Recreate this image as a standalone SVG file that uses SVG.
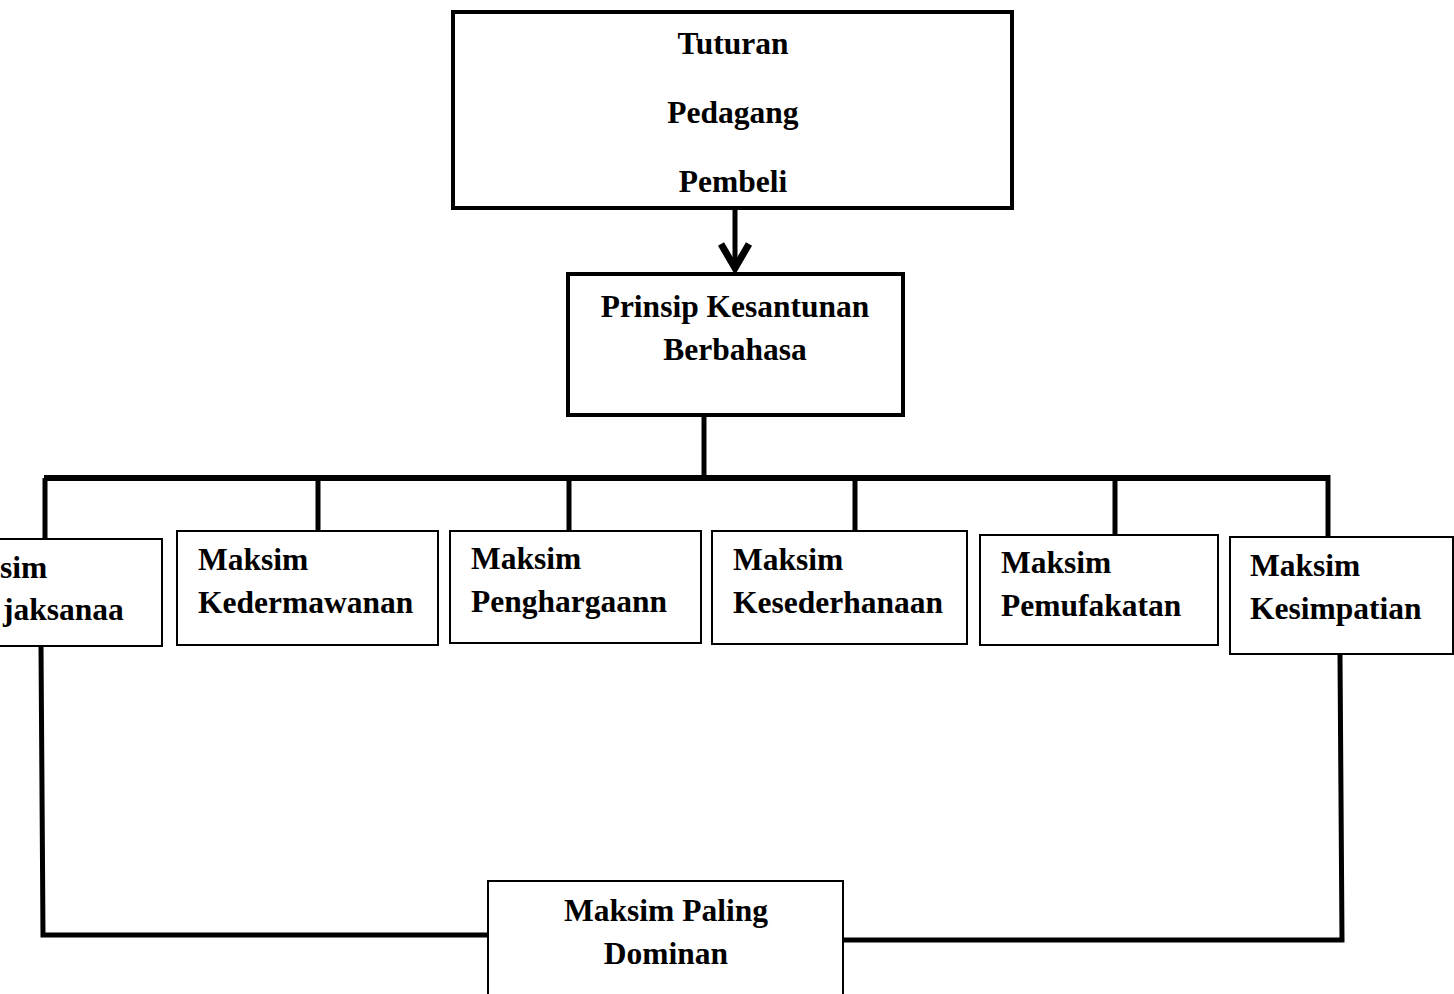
<svg xmlns="http://www.w3.org/2000/svg" width="1454" height="994" viewBox="0 0 1454 994">
<style>
text{font-family:"Liberation Serif","Times New Roman",serif;font-weight:bold;font-size:31.5px;fill:#000}
.c{text-anchor:middle}
.thick{fill:none;stroke:#000;stroke-width:4}
.thin{fill:#fff;stroke:#000;stroke-width:2}
.conn{fill:none;stroke:#000;stroke-width:5}
</style>
<rect width="1454" height="994" fill="#fff"/>
<g id="connectors">
<line class="conn" x1="735" y1="208" x2="735" y2="268"/>
<polyline class="conn" points="721,244 735,268 749,244" style="stroke-width:7"/>
<line class="conn" x1="704" y1="415" x2="704" y2="478"/>
<line class="conn" x1="44" y1="478" x2="1330" y2="478" style="stroke-width:6"/>
<line class="conn" x1="45" y1="478" x2="45" y2="540"/>
<line class="conn" x1="318" y1="478" x2="318" y2="531"/>
<line class="conn" x1="569" y1="478" x2="569" y2="531"/>
<line class="conn" x1="855" y1="478" x2="855" y2="531"/>
<line class="conn" x1="1115" y1="478" x2="1115" y2="535"/>
<line class="conn" x1="1328" y1="475" x2="1328" y2="537"/>
<polyline class="conn" points="41,646 43,935 490,935"/>
<polyline class="conn" points="1340,655 1342,940 843,940"/>
</g>
<g id="tuturan">
<rect class="thick" x="453" y="12" width="559" height="196"/>
<text class="c" x="733" y="54">Tuturan</text>
<text class="c" x="733" y="123">Pedagang</text>
<text class="c" x="733" y="192">Pembeli</text>
</g>
<g id="prinsip">
<rect class="thick" x="568" y="274" width="335" height="141"/>
<text class="c" x="735" y="317">Prinsip Kesantunan</text>
<text class="c" x="735" y="360">Berbahasa</text>
</g>
<g id="kebijaksanaan">
<rect class="thin" x="-10" y="539" width="172" height="107"/>
<text x="0" y="578">sim</text>
<text x="3" y="620">jaksanaa</text>
</g>
<g id="kedermawanan">
<rect class="thin" x="177" y="531" width="261" height="114"/>
<text x="198" y="570">Maksim</text>
<text x="198" y="613">Kedermawanan</text>
</g>
<g id="penghargaan">
<rect class="thin" x="450" y="531" width="251" height="112"/>
<text x="471" y="569">Maksim</text>
<text x="471" y="612">Penghargaann</text>
</g>
<g id="kesederhanaan">
<rect class="thin" x="712" y="531" width="255" height="113"/>
<text x="733" y="570">Maksim</text>
<text x="733" y="613">Kesederhanaan</text>
</g>
<g id="pemufakatan">
<rect class="thin" x="980" y="535" width="238" height="110"/>
<text x="1001" y="573">Maksim</text>
<text x="1001" y="616">Pemufakatan</text>
</g>
<g id="kesimpatian">
<rect class="thin" x="1230" y="537" width="223" height="117"/>
<text x="1250" y="576">Maksim</text>
<text x="1250" y="619">Kesimpatian</text>
</g>
<g id="dominan">
<rect class="thin" x="488" y="881" width="355" height="125"/>
<text class="c" x="666" y="921">Maksim Paling</text>
<text class="c" x="666" y="964">Dominan</text>
</g>
</svg>
